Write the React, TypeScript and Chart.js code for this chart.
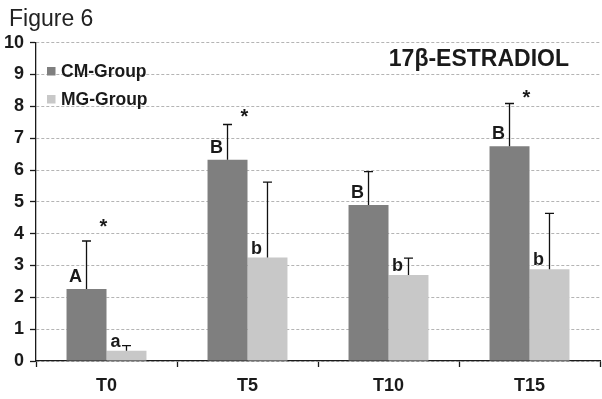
import React, { useEffect, useRef } from "react";
import { Chart, registerables } from "chart.js";

Chart.register(...registerables);

const categories = ["T0", "T5", "T10", "T15"];
const cmValues = [2.26, 6.32, 4.9, 6.75];
const cmErrors = [1.51, 1.11, 1.05, 1.34];
const mgValues = [0.32, 3.25, 2.7, 2.88];
const mgErrors = [0.16, 2.37, 0.53, 1.76];
const cmLetters = ["A", "B", "B", "B"];
const mgLetters = ["a", "b", "b", "b"];
const starLevels = [4.35, 7.8, null, 8.4];
const yTicks = [0, 1, 2, 3, 4, 5, 6, 7, 8, 9, 10];
const seriesNames = ["CM-Group", "MG-Group"];
const titleText = "17\u03b2-ESTRADIOL";
const figureLabel = "Figure 6";

const CM_COLOR = "#7f7f7f";
const MG_COLOR = "#c8c8c8";
const FONT = "'Liberation Sans', Arial, Helvetica, sans-serif";

const annotationPlugin = {
  id: "annotations",
  afterDatasetsDraw(chart: any) {
    const ctx = chart.ctx;
    const y = chart.scales.y;
    const x = chart.scales.x;
    const errs = [cmErrors, mgErrors];
    const vals = [cmValues, mgValues];
    const letters = [cmLetters, mgLetters];
    ctx.save();
    for (let d = 0; d < 2; d++) {
      const meta = chart.getDatasetMeta(d);
      meta.data.forEach((bar: any, i: number) => {
        const top = y.getPixelForValue(vals[d][i] + errs[d][i]);
        const base = bar.y;
        ctx.strokeStyle = "#111";
        ctx.lineWidth = 1.3;
        ctx.beginPath();
        ctx.moveTo(bar.x, base);
        ctx.lineTo(bar.x, top);
        ctx.moveTo(bar.x - 4.5, top);
        ctx.lineTo(bar.x + 4.5, top);
        ctx.stroke();
        const letter = letters[d][i];
        ctx.fillStyle = "#1a1a1a";
        ctx.font = `bold 18px ${FONT}`;
        ctx.textAlign = "center";
        ctx.textBaseline = "alphabetic";
        const upper = letter === letter.toUpperCase();
        ctx.fillText(letter, bar.x - 11, base - (upper ? 7 : 4));
      });
    }
    ctx.font = `bold 20px ${FONT}`;
    ctx.textAlign = "center";
    ctx.textBaseline = "middle";
    starLevels.forEach((lv, i) => {
      if (lv == null) return;
      const cx = x.getPixelForValue(i) - 3;
      const cy = y.getPixelForValue(lv);
      ctx.fillText("*", cx, cy + 5);
    });
    const colors = [CM_COLOR, MG_COLOR];
    const legendY = [77, 105];
    ctx.font = `bold 17.5px ${FONT}`;
    ctx.textAlign = "left";
    ctx.textBaseline = "alphabetic";
    for (let d = 0; d < 2; d++) {
      ctx.fillStyle = colors[d];
      ctx.fillRect(47, legendY[d] - 10, 8.5, 8.5);
      ctx.fillStyle = "#1a1a1a";
      ctx.fillText(seriesNames[d], 61, legendY[d]);
    }
    ctx.font = `bold 23px ${FONT}`;
    ctx.textAlign = "right";
    ctx.fillText(titleText, 569, 66);
    ctx.font = `23px ${FONT}`;
    ctx.textAlign = "left";
    ctx.fillStyle = "#222";
    ctx.fillText(figureLabel, 9, 26);
    ctx.restore();
  },
};

export default function App() {
  const ref = useRef<HTMLCanvasElement | null>(null);
  useEffect(() => {
    document.body.style.margin = "0";
    const canvas = ref.current;
    if (!canvas) return;
    const chart = new Chart(canvas, {
      type: "bar",
      data: {
        labels: categories,
        datasets: [
          {
            label: seriesNames[0],
            data: cmValues,
            backgroundColor: CM_COLOR,
            barPercentage: 1,
            categoryPercentage: 0.567,
          },
          {
            label: seriesNames[1],
            data: mgValues,
            backgroundColor: MG_COLOR,
            barPercentage: 1,
            categoryPercentage: 0.567,
          },
        ],
      },
      options: {
        responsive: false,
        animation: false,
        devicePixelRatio: 1,
        layout: { padding: { top: 42.7, right: 2, left: 0, bottom: 0 } },
        plugins: {
          legend: { display: false },
          title: { display: false },
          tooltip: { enabled: false },
        },
        scales: {
          x: {
            offset: true,
            grid: {
              display: true,
              drawOnChartArea: false,
              drawTicks: true,
              tickLength: 6,
              tickColor: "#1a1a1a",
              tickWidth: 1.3,
              offset: true,
            },
            border: { display: true, color: "#1a1a1a", width: 1.3 },
            ticks: {
              color: "#1a1a1a",
              font: { family: FONT, size: 18, weight: "bold" },
              padding: 8,
            },
            afterFit(scale: any) {
              scale.height = 38;
            },
          },
          y: {
            min: 0,
            max: 10,
            afterBuildTicks(scale: any) {
              scale.ticks = yTicks.map((v) => ({ value: v }));
            },
            grid: {
              color: "#b4b4b4",
              lineWidth: 1,
              tickLength: 6,
              tickColor: "#1a1a1a",
              tickWidth: 1.3,
              tickBorderDash: [],
            },
            border: { display: true, color: "#1a1a1a", width: 1.3, dash: [3, 2] },
            ticks: {
              color: "#1a1a1a",
              font: { family: FONT, size: 18, weight: "bold" },
              padding: 6,
            },
            afterFit(scale: any) {
              scale.width = 36;
            },
          },
        },
      },
      plugins: [annotationPlugin],
    } as any);
    return () => chart.destroy();
  }, []);
  return (
    <div style={{ width: 602, height: 399, background: "#fff" }}>
      <canvas ref={ref} width={602} height={399} style={{ display: "block" }} />
    </div>
  );
}
